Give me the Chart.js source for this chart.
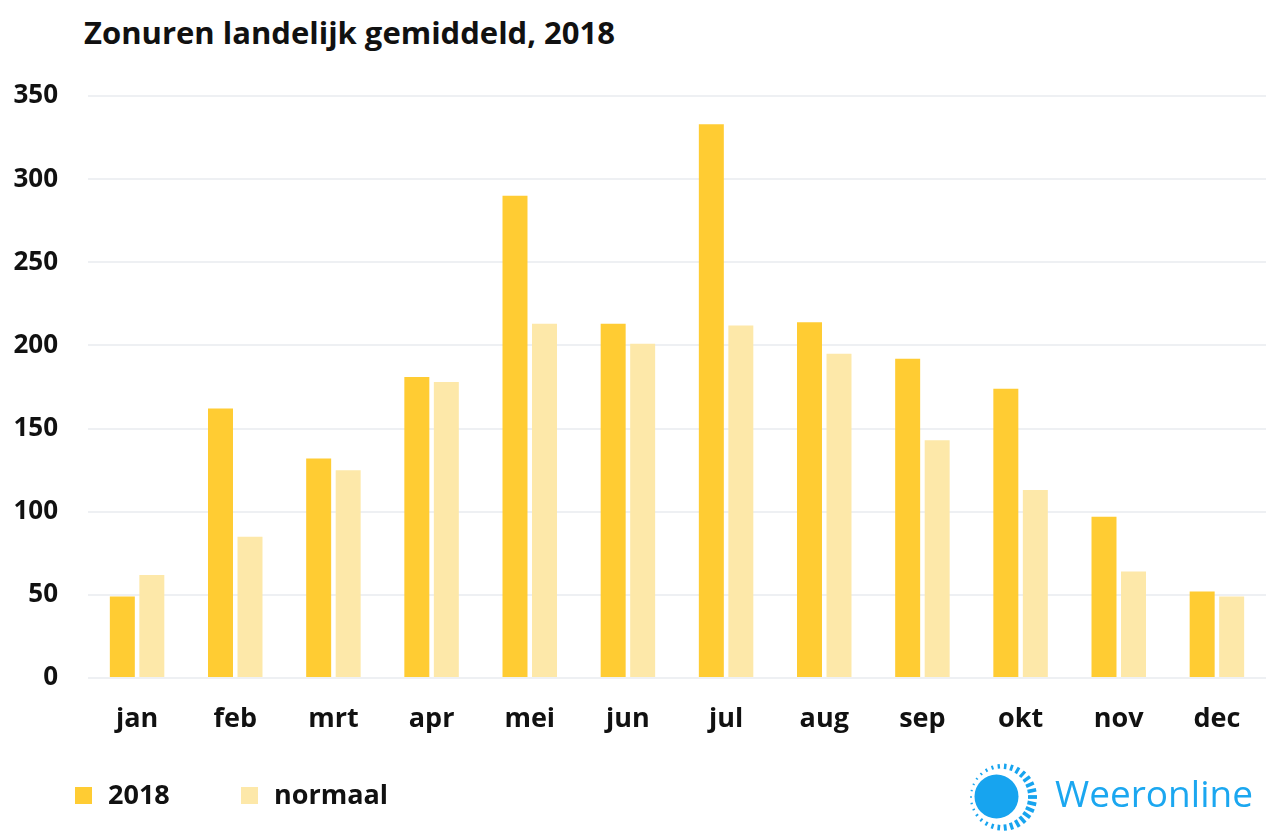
<!DOCTYPE html>
<html>
<head>
<meta charset="utf-8">
<title>Zonuren landelijk gemiddeld, 2018</title>
<script src="https://cdn.jsdelivr.net/npm/chart.js@4.4.1/dist/chart.umd.min.js"></script>
<style>
    body {
        margin: 0;
        background: #ffffff;
        font-family: 'Open Sans', sans-serif;
    }
    #wrap {
        position: relative;
        width: 1280px;
        height: 837px;
        overflow: hidden;
    }
    #my-chart {
        position: absolute;
        left: 0;
        top: 0;
    }
    #chart-title {
        position: absolute;
        left: 84px;
        top: 17px;
        margin: 0;
        font-size: 31px;
        line-height: 31px;
        font-weight: 700;
        color: #111111;
        white-space: nowrap;
    }
    .legend-item {
        position: absolute;
        top: 780px;
        font-size: 27px;
        line-height: 27px;
        font-weight: 700;
        color: #111111;
        white-space: nowrap;
    }
    .legend-box {
        position: absolute;
        top: 7px;
        left: 0;
        width: 17px;
        height: 17px;
    }
    .legend-text {
        position: absolute;
        left: 33px;
        top: 0;
    }
    #logo {
        position: absolute;
        left: 960px;
        top: 756px;
    }
    #logo-text {
        position: absolute;
        left: 1055px;
        top: 774px;
        font-size: 37px;
        line-height: 37px;
        font-weight: 500;
        color: #1ba7f0;
        white-space: nowrap;
    }
</style>
</head>
<body>
<div id="wrap">
    <h1 id="chart-title">Zonuren landelijk gemiddeld, 2018</h1>
    <canvas id="my-chart" width="1280" height="837"></canvas>
    <div id="legend"></div>
    <svg id="logo" width="84" height="84" viewBox="0 0 84 84">
        <circle cx="36.5" cy="40.5" r="22" fill="#17a4ef"></circle>
        <g id="rays" stroke="#17a4ef"></g>
    </svg>
    <div id="logo-text">Weeronline</div>
</div>

<script>
const months = ['jan', 'feb', 'mrt', 'apr', 'mei', 'jun', 'jul', 'aug', 'sep', 'okt', 'nov', 'dec'];
const hours2018 = [49, 162, 132, 181, 290, 213, 333, 214, 192, 174, 97, 52];
const hoursNormal = [62, 85, 125, 178, 213, 201, 212, 195, 143, 113, 64, 49];
const seriesLabels = ['2018', 'normaal'];
const seriesColors = ['#ffcc33', '#fde8a9'];
const yTicks = [0, 50, 100, 150, 200, 250, 300, 350];

const textColor = '#111111';
const gridColor = '#eef0f3';


window.addEventListener('load', () => {
    const chart = createBarChart();
    buildLegend(chart);
    drawSunRays();
});


function createBarChart() {
    const ctx = document.getElementById('my-chart').getContext('2d');
    return new Chart(ctx, {
        type: 'bar',
        data: {
            labels: months,
            datasets: [{
                label: seriesLabels[0],
                data: hours2018,
                backgroundColor: seriesColors[0],
                categoryPercentage: 0.601,
                barPercentage: 0.847
            }, {
                label: seriesLabels[1],
                data: hoursNormal,
                backgroundColor: seriesColors[1],
                categoryPercentage: 0.601,
                barPercentage: 0.847
            }]
        },
        options: {
            responsive: false,
            animation: false,
            devicePixelRatio: 1,
            layout: {
                padding: { top: 96, right: 14, bottom: 99, left: 0 }
            },
            plugins: {
                legend: { display: false },
                title: { display: false },
                tooltip: { enabled: false }
            },
            scales: {
                x: {
                    grid: { display: false },
                    border: { display: false },
                    ticks: {
                        color: textColor,
                        padding: 17,
                        font: { family: 'Open Sans', size: 27, weight: 'bold' }
                    },
                    afterFit: scale => { scale.height = 60; }
                },
                y: {
                    min: 0,
                    max: yTicks[yTicks.length - 1],
                    afterBuildTicks: scale => {
                        scale.ticks = yTicks.map(v => ({ value: v }));
                    },
                    grid: {
                        color: gridColor,
                        lineWidth: 2,
                        drawTicks: false
                    },
                    border: { display: false },
                    ticks: {
                        color: textColor,
                        padding: 30,
                        font: { family: 'Open Sans', size: 26, weight: 'bold' }
                    },
                    afterFit: scale => { scale.width = 88; }
                }
            }
        }
    });
}

function buildLegend(chart) {
    const legend = document.getElementById('legend');
    const lefts = [75, 241];
    chart.data.datasets.forEach((ds, i) => {
        const item = document.createElement('div');
        item.className = 'legend-item';
        item.style.left = lefts[i] + 'px';

        const box = document.createElement('span');
        box.className = 'legend-box';
        box.style.background = ds.backgroundColor;

        const txt = document.createElement('span');
        txt.className = 'legend-text';
        txt.textContent = ds.label;

        item.appendChild(box);
        item.appendChild(txt);
        legend.appendChild(item);
    });
}

// logo: ring of short rays, heavier on the right-hand side
function drawSunRays() {
    const g = document.getElementById('rays');
    const cx = 42, cy = 41;
    const count = 30;
    for (let i = 0; i < count; i++) {
        const a = (i / count) * Math.PI * 2;
        const t = (1 + Math.cos(a - 0.15)) / 2;
        const r1 = 30 - 4 * t;
        const r2 = 32 + 3 * t;
        const line = document.createElementNS('http://www.w3.org/2000/svg', 'line');
        line.setAttribute('x1', cx + r1 * Math.cos(a));
        line.setAttribute('y1', cy + r1 * Math.sin(a));
        line.setAttribute('x2', cx + r2 * Math.cos(a));
        line.setAttribute('y2', cy + r2 * Math.sin(a));
        line.setAttribute('stroke-width', 1.4 + 2.4 * t);
        g.appendChild(line);
    }
}
</script>
</body>
</html>
